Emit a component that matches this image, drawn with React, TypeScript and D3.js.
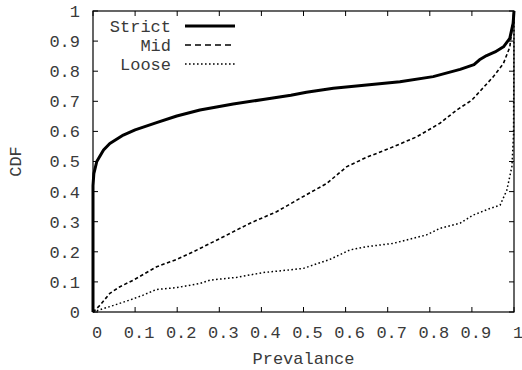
import React from "react";
import * as d3 from "d3";

const xTicks = [0, 0.1, 0.2, 0.3, 0.4, 0.5, 0.6, 0.7, 0.8, 0.9, 1];
const yTicks = [0, 0.1, 0.2, 0.3, 0.4, 0.5, 0.6, 0.7, 0.8, 0.9, 1];
const tickLabels = ["0", "0.1", "0.2", "0.3", "0.4", "0.5", "0.6", "0.7", "0.8", "0.9", "1"];

const strictX = [0, 0, 0.002, 0.009, 0.025, 0.04, 0.072, 0.1, 0.151, 0.199, 0.254, 0.333, 0.404, 0.47, 0.507, 0.571, 0.65, 0.729, 0.808, 0.872, 0.905, 0.918, 0.935, 0.955, 0.975, 0.99, 0.998, 1];
const strictY = [0, 0.42, 0.46, 0.5, 0.538, 0.56, 0.588, 0.605, 0.629, 0.651, 0.671, 0.691, 0.706, 0.72, 0.73, 0.743, 0.754, 0.765, 0.782, 0.806, 0.822, 0.838, 0.852, 0.864, 0.881, 0.909, 0.96, 1.0];

const midX = [0, 0.017, 0.04, 0.064, 0.096, 0.151, 0.199, 0.238, 0.31, 0.373, 0.436, 0.492, 0.555, 0.603, 0.65, 0.705, 0.769, 0.824, 0.864, 0.9, 0.951, 0.975, 0.99, 1];
const midY = [0, 0.023, 0.062, 0.084, 0.106, 0.15, 0.175, 0.2, 0.25, 0.295, 0.333, 0.378, 0.427, 0.483, 0.514, 0.544, 0.582, 0.627, 0.671, 0.704, 0.782, 0.826, 0.88, 1];

const looseX = [0, 0.04, 0.088, 0.119, 0.151, 0.199, 0.254, 0.278, 0.341, 0.404, 0.468, 0.5, 0.563, 0.61, 0.65, 0.713, 0.792, 0.824, 0.872, 0.903, 0.943, 0.967, 0.983, 0.995, 0.999, 1];
const looseY = [0, 0.018, 0.04, 0.056, 0.075, 0.081, 0.095, 0.106, 0.115, 0.131, 0.14, 0.145, 0.175, 0.206, 0.217, 0.228, 0.256, 0.278, 0.295, 0.322, 0.344, 0.355, 0.405, 0.483, 0.59, 1];

const seriesNames = ["Strict", "Mid", "Loose"];

export default function App() {
  const W = 522, H = 370;
  const L = 93, R = 514, T = 11, B = 312;
  const x = d3.scaleLinear().domain([0, 1]).range([L, R]);
  const y = d3.scaleLinear().domain([0, 1]).range([B, T]);
  const line = d3.line<[number, number]>().x((d) => x(d[0])).y((d) => y(d[1]));
  const zip = (a: number[], b: number[]) => a.map((v, i) => [v, b[i]] as [number, number]);

  const font = "'Liberation Mono', 'DejaVu Sans Mono', monospace";
  const fs = 17;
  const txt = "#3a3a3a";
  const tl = 5;

  const styles = [
    { w: 3, dash: undefined as string | undefined, legDash: undefined as string | undefined },
    { w: 1.6, dash: "3.5,2.5", legDash: "6,4" },
    { w: 1.5, dash: "1.6,2.4", legDash: "1.6,2.4" },
  ];
  const data = [zip(strictX, strictY), zip(midX, midY), zip(looseX, looseY)];

  return (
    <svg width={W} height={H} style={{ position: "absolute", left: 0, top: 0, background: "#fff" }} fontFamily={font} fontSize={fs}>
      {xTicks.map((t, i) => (
        <g key={"xt" + i}>
          <line x1={x(t)} x2={x(t)} y1={B} y2={B - tl} stroke="#000" />
          <line x1={x(t)} x2={x(t)} y1={T} y2={T + tl} stroke="#000" />
          <text x={x(t) + 4} y={332} dy="0.35em" textAnchor="middle" fill={txt}>{tickLabels[i]}</text>
        </g>
      ))}
      {yTicks.map((t, i) => (
        <g key={"yt" + i}>
          <line x1={L} x2={L + tl} y1={y(t)} y2={y(t)} stroke="#000" />
          <line x1={R} x2={R - tl} y1={y(t)} y2={y(t)} stroke="#000" />
          <text x={80} y={y(t)} dy="0.35em" textAnchor="end" fill={txt}>{tickLabels[i]}</text>
        </g>
      ))}
      {data.map((d, i) => (
        <path key={"s" + i} d={line(d) || ""} fill="none" stroke="#000" strokeWidth={styles[i].w}
          strokeDasharray={styles[i].dash} strokeLinejoin="round" />
      ))}
      <rect x={L} y={T} width={R - L} height={B - T} fill="none" stroke="#000" strokeWidth={1.2} />
      {seriesNames.map((n, i) => {
        const cy = 26 + i * 19;
        return (
          <g key={"lg" + i}>
            <text x={171} y={cy} dy="0.35em" textAnchor="end" fill={txt}>{n}</text>
            <line x1={185} x2={235} y1={cy} y2={cy} stroke="#000" strokeWidth={styles[i].w}
              strokeDasharray={styles[i].legDash} />
          </g>
        );
      })}
      <text x={(L + R) / 2} y={358} dy="0.35em" textAnchor="middle" fill={txt}>Prevalance</text>
      <text transform={`translate(15,${(T + B) / 2}) rotate(-90)`} dy="0.35em" textAnchor="middle" fill={txt}>CDF</text>
    </svg>
  );
}
